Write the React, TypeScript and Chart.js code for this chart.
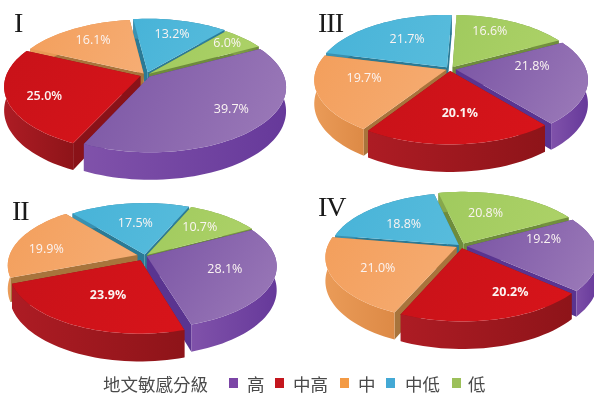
import React, { useEffect, useRef } from "react";
import Chart from "chart.js/auto";
import { ArcElement, PieController } from "chart.js";

// Share of each sensitivity grade, listed high to low, for the four areas.
const grades = ["高", "中高", "中", "中低", "低"];
const areaI = [39.7, 25.0, 16.1, 13.2, 6.0];
const areaII = [28.1, 23.9, 19.9, 17.5, 10.7];
const areaIII = [21.8, 20.1, 19.7, 21.7, 16.6];
const areaIV = [19.2, 20.2, 21.0, 18.8, 20.8];

const legendTitle = "地文敏感分級";

// Top-face and wall tints per grade: [start, end] of a linear gradient.
const TOP_TINTS = [
  ["#7a54a4", "#9c7bb9"],
  ["#c81219", "#d8141a"],
  ["#f39f5c", "#f6ad74"],
  ["#47b3d8", "#58bcdc"],
  ["#a0ca5e", "#add268"],
];
const WALL_TINTS = [
  ["#8052aa", "#66399a"],
  ["#ad1c24", "#8e1419"],
  ["#ea9b58", "#dd8a46"],
  ["#3b93b3", "#2a7a96"],
  ["#87a84c", "#6f8c3c"],
];
const CUT_TINTS = ["#5a3490", "#8a1218", "#a8743c", "#2b7a95", "#6e8c3c"];
const SWATCHES = ["#7b45a6", "#c4161e", "#f39a44", "#44a9d5", "#9cc05a"];

// Camera model of the tilted pies.
const TILT = 0.47;
const PERSPECTIVE = 0.16;
const DEPTH = 23;
const LABEL_RADIUS = 0.78;
const CANVAS_W = 320;
const CANVAS_H = 240;

function project(arc: any, px: number, py: number, z: number) {
  const s = 1 / (1 - (PERSPECTIVE * py) / arc.outerRadius);
  return { x: arc.x + px * s, y: arc.y + TILT * py * s + z * s };
}

class Arc3D extends ArcElement {
  static id = "arc3d";

  // Outline of the slice rim, in pie-plane coordinates, moved out by its offset.
  rim() {
    const { startAngle, endAngle, outerRadius } = this as any;
    const mid = (startAngle + endAngle) / 2;
    const off = (this as any).options.offset || 0;
    const ox = Math.cos(mid) * off;
    const oy = Math.sin(mid) * off;
    const steps = Math.max(6, Math.ceil((endAngle - startAngle) / 0.04));
    const pts = [];
    for (let i = 0; i <= steps; i++) {
      const a = startAngle + ((endAngle - startAngle) * i) / steps;
      pts.push([ox + Math.cos(a) * outerRadius, oy + Math.sin(a) * outerRadius]);
    }
    return { ox, oy, pts };
  }

  bounds(points: { x: number; y: number }[]) {
    const xs = points.map((p) => p.x);
    const ys = points.map((p) => p.y);
    return { x0: Math.min(...xs), x1: Math.max(...xs), y0: Math.min(...ys), y1: Math.max(...ys) };
  }

  fillPolygon(ctx: CanvasRenderingContext2D, points: { x: number; y: number }[], fill: any) {
    ctx.beginPath();
    points.forEach((p, i) => (i ? ctx.lineTo(p.x, p.y) : ctx.moveTo(p.x, p.y)));
    ctx.closePath();
    ctx.fillStyle = fill;
    ctx.fill();
  }

  drawWalls(ctx: CanvasRenderingContext2D, index: number) {
    const { ox, oy, pts } = this.rim();
    const last = pts[pts.length - 1];
    // Cut faces running from the apex to each end of the rim.
    for (const end of [pts[0], last]) {
      this.fillPolygon(
        ctx,
        [
          project(this, ox, oy, 0),
          project(this, end[0], end[1], 0),
          project(this, end[0], end[1], DEPTH),
          project(this, ox, oy, DEPTH),
        ],
        CUT_TINTS[index],
      );
    }
    // Curved outer wall.
    const top = pts.map((p) => project(this, p[0], p[1], 0));
    const bottom = pts.map((p) => project(this, p[0], p[1], DEPTH)).reverse();
    const wall = top.concat(bottom);
    const b = this.bounds(wall);
    const grad = ctx.createLinearGradient(b.x0, 0, b.x1, 0);
    grad.addColorStop(0, WALL_TINTS[index][0]);
    grad.addColorStop(1, WALL_TINTS[index][1]);
    this.fillPolygon(ctx, wall, grad);
  }

  draw(ctx: CanvasRenderingContext2D, index = 0) {
    const { ox, oy, pts } = this.rim();
    const face = [project(this, ox, oy, 0), ...pts.map((p) => project(this, p[0], p[1], 0))];
    const b = this.bounds(face);
    const grad = ctx.createLinearGradient(b.x0, b.y0, b.x1, b.y1);
    grad.addColorStop(0, TOP_TINTS[index][0]);
    grad.addColorStop(1, TOP_TINTS[index][1]);
    this.fillPolygon(ctx, face, grad);
  }

  labelPoint() {
    const { startAngle, endAngle, outerRadius } = this as any;
    const mid = (startAngle + endAngle) / 2;
    const r = (this as any).options.offset + outerRadius * LABEL_RADIUS;
    return project(this, Math.cos(mid) * r, Math.sin(mid) * r, 0);
  }
}

// A pie that paints walls back to front, then the faces, then the value labels.
class Pie3DController extends PieController {
  static id = "pie3d";
  static defaults = { dataElementType: "arc3d" };

  draw() {
    const ctx = this.chart.ctx;
    const arcs: any[] = this.getMeta().data as any[];
    const dataset = this.getDataset() as any;
    const values = dataset.data as number[];
    const midSin = (a: any) => Math.sin((a.startAngle + a.endAngle) / 2);
    arcs
      .map((arc, index) => ({ arc, index }))
      .sort((p, q) => midSin(p.arc) - midSin(q.arc))
      .forEach(({ arc, index }) => arc.drawWalls(ctx, index));
    arcs.forEach((arc, index) => arc.draw(ctx, index));
    ctx.textAlign = "center";
    ctx.textBaseline = "middle";
    ctx.fillStyle = "#fbf4f2";
    arcs.forEach((arc, index) => {
      const p = arc.labelPoint();
      const nudge = dataset.labelNudge[index];
      const weight = index === 1 ? dataset.redWeight : 400;
      ctx.font = `${weight} 12.5px "Open Sans"`;
      ctx.fillText(`${values[index].toFixed(1)}%`, p.x + nudge[0], p.y + nudge[1]);
    });
  }
}

Chart.register(Arc3D, Pie3DController);

function Pie({ values, cx, cy, radius, offsets, labelNudge, redWeight = 700 }: any) {
  const ref = useRef<HTMLCanvasElement>(null);
  useEffect(() => {
    const chart = new Chart(ref.current!, {
      type: "pie3d" as any,
      data: {
        labels: grades,
        datasets: [
          { data: values, backgroundColor: SWATCHES, offset: offsets, borderWidth: 0, labelNudge, redWeight } as any,
        ],
      },
      options: {
        animation: false,
        responsive: false,
        events: [],
        rotation: 62,
        radius,
        plugins: { legend: { display: false }, tooltip: { enabled: false } },
      } as any,
    });
    return () => chart.destroy();
  }, []);
  return (
    <canvas
      ref={ref}
      width={CANVAS_W}
      height={CANVAS_H}
      style={{ position: "absolute", left: cx - CANVAS_W / 2, top: cy - CANVAS_H / 2 }}
    />
  );
}

function Heading({ text, x, y }: { text: string; x: number; y: number }) {
  return (
    <div
      style={{
        position: "absolute",
        left: x,
        top: y,
        font: '28px/1 "Liberation Serif", serif',
        letterSpacing: "-1px",
        color: "#1a1a1a",
      }}
    >
      {text}
    </div>
  );
}

const legendText = {
  position: "absolute" as const,
  top: 373,
  font: '17.5px/22px "Noto Sans CJK TC", sans-serif',
  color: "#4a4a4a",
  whiteSpace: "nowrap" as const,
};
const swatchX = [229, 275, 340, 386, 452];
const gradeX = [247, 293, 358, 405, 468];

export default function App() {
  return (
    <div
      style={{
        position: "absolute",
        left: 0,
        top: 0,
        width: 594,
        height: 394,
        overflow: "hidden",
        background: "#fff",
      }}
    >
      <Pie
        values={areaI}
        cx={146}
        cy={75}
        radius={134}
        offsets={[5, 6, 4, 6, 4]}
        redWeight={600}
        labelNudge={[[-2, -4], [7, 3], [5, 3], [-2, 4], [3, -2]]}
      />
      <Pie
        values={areaIII}
        cx={450}
        cy={69}
        radius={130}
        offsets={[6, 4, 4, 5, 5]}
        labelNudge={[[-26, -13], [3, -12], [17, -10], [15, 7], [-11, 1]]}
      />
      <Pie
        values={areaII}
        cx={145}
        cy={256}
        radius={128}
        offsets={[2, 10, 8, 3, 3]}
        labelNudge={[[-19, -6], [18, -13], [2, 6], [3, 10], [-9, 4]]}
      />
      <Pie
        values={areaIV}
        cx={461}
        cy={246}
        radius={129}
        offsets={[6, 5, 5, 3, 6]}
        labelNudge={[[-25, -12], [23, -9], [16, -3], [12, 9], [-15, 8]]}
      />
      <Heading text="I" x={14} y={9} />
      <Heading text="III" x={318} y={9} />
      <Heading text="II" x={12} y={197} />
      <Heading text="IV" x={318} y={193} />
      <div style={{ ...legendText, left: 103 }}>{legendTitle}</div>
      {grades.map((g, i) => (
        <React.Fragment key={g}>
          <div
            style={{
              position: "absolute",
              left: swatchX[i],
              top: 378,
              width: 9,
              height: 10,
              background: SWATCHES[i],
            }}
          />
          <div style={{ ...legendText, left: gradeX[i] }}>{g}</div>
        </React.Fragment>
      ))}
    </div>
  );
}
